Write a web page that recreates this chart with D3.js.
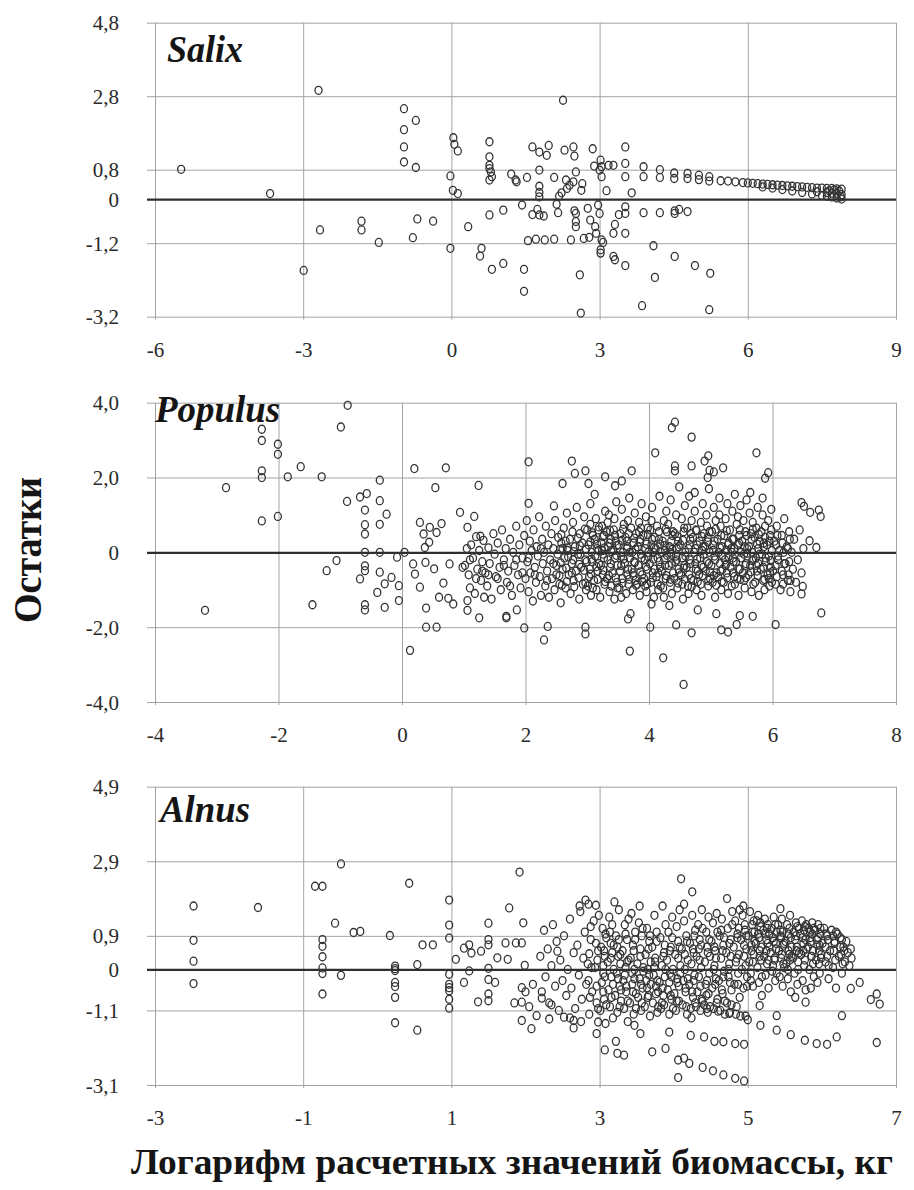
<!DOCTYPE html>
<html><head><meta charset="utf-8">
<script src="https://cdn.jsdelivr.net/npm/d3@7"></script>
<style>body{margin:0;background:#fff}svg{display:block}</style>
</head><body>
<script>
// ---------------- DATA ----------------
const salixXTicks = [-6,-3,0,3,6,9];
const salixYTicks = [4.8,2.8,0.8,0,-1.2,-3.2];
const salixYLabels = ["4,8","2,8","0,8","0","-1,2","-3,2"];
const populusXTicks = [-4,-2,0,2,4,6,8];
const populusYTicks = [4,2,0,-2,-4];
const populusYLabels = ["4,0","2,0","0","-2,0","-4,0"];
const alnusXTicks = [-3,-1,1,3,5,7];
const alnusYTicks = [4.9,2.9,0.9,0,-1.1,-3.1];
const alnusYLabels = ["4,9","2,9","0,9","0","-1,1","-3,1"];
const speciesNames = ["Salix","Populus","Alnus"];
const yTitle = "Остатки";
const xTitle = "Логарифм расчетных значений биомассы, кг";

const salixPoints = [
[-5.47,0.81],[-3.67,0.15],[-2.69,2.96],[-2.99,-1.94],[-2.66,-0.84],[-1.82,-0.6],[-1.82,-0.84],[-1.47,-1.18],
[-0.96,2.46],[-0.72,2.14],[-0.96,1.89],[-0.96,1.42],[-0.96,1.01],[-0.72,0.86],[-0.69,-0.54],[-0.78,-1.05],[-0.37,-0.6],
[-0.02,-1.34],[0.04,1.67],[0.06,1.49],[0.13,1.31],[-0.02,0.63],[0.03,0.24],[0.13,0.15],[0.34,-0.75],[0.61,-1.34],[0.58,-1.55],
[0.77,1.56],[0.77,1.15],[0.77,0.92],[0.77,0.83],[0.8,0.74],[0.77,0.52],[0.82,0.61],[0.77,-0.43],[0.82,-1.91],[1.05,-1.75],[1.05,-0.3],
[1.21,0.68],[1.3,0.52],[1.32,0.47],[1.53,0.59],[1.43,-0.16],[1.47,-1.91],[1.47,-2.51],[1.55,-1.13],[1.64,1.42],[1.64,-0.42],[1.71,-1.09],
[1.78,1.28],[1.78,0.79],[1.78,0.35],[1.78,0.18],[1.78,0.06],[1.78,-0.43],[1.74,-0.28],[1.87,-0.46],[1.93,1.19],[1.97,1.46],[1.89,-1.11],
[2.08,0.59],[2.08,-1.09],[2.13,-0.14],[2.16,-0.37],[2.18,0.08],[2.23,0.17],[2.26,2.69],[2.29,1.33],[2.32,0.52],[2.34,0.29],[2.39,0.38],
[2.42,-1.11],[2.47,1.42],[2.49,1.17],[2.52,0.74],[2.47,0.47],[2.49,-0.32],[2.52,-0.39],[2.52,-0.61],[2.52,-0.75],[2.6,-2.06],[2.62,-3.1],
[2.63,0.24],[2.65,0.42],[2.68,-1.07],[2.76,-0.25],[2.79,-1.04],[2.81,-0.57],[2.86,1.37],[2.89,0.9],[2.91,-0.75],[2.93,-0.93],[2.97,-0.16],
[3.0,0.79],[3.0,-0.39],[3.02,1.06],[3.04,0.88],[3.04,0.61],[3.04,-1.11],[3.07,-1.18],[3.02,-1.38],[3.02,-1.47],[3.14,0.23],[3.18,0.92],
[3.28,0.92],[3.28,-1.56],[3.31,-1.65],[3.31,-0.69],[3.28,-0.93],[3.39,-0.42],[3.52,1.42],[3.52,0.97],[3.52,0.61],[3.52,-0.21],[3.52,-0.39],
[3.52,-0.93],[3.52,-1.81],[3.65,0.17],[3.89,0.88],[3.89,0.61],[3.89,-0.37],[3.86,-2.9],[4.09,-1.27],[4.12,-2.13],[4.22,0.8],[4.22,0.59],
[4.22,-0.37],[4.51,0.71],[4.51,0.56],[4.52,-0.32],[4.52,-0.39],[4.52,-1.56],[4.61,-0.28],[4.78,0.7],[4.78,0.56],[4.78,-0.34],[4.93,-1.81],
[5.01,0.65],[5.01,0.53],[5.22,0.61],[5.22,0.49],[5.24,-2.02],[5.22,-3.01],
[5.45,0.5],[5.6,0.49],[5.75,0.47],[5.9,0.45],[6.0,0.44],[6.1,0.43],[6.2,0.42],[6.3,0.41],[6.4,0.4],[6.5,0.39],[6.6,0.38],[6.7,0.37],
[6.8,0.36],[6.9,0.35],[7.0,0.34],[7.1,0.33],[7.2,0.32],[7.3,0.31],[7.4,0.3],[7.5,0.3],[7.6,0.29],[7.7,0.29],[7.8,0.28],[7.9,0.27],
[6.3,0.33],[6.5,0.3],[6.7,0.26],[6.9,0.22],[7.1,0.18],[7.3,0.14],[7.5,0.1],[7.6,0.08],[7.7,0.06],[7.8,0.03],[7.9,0.0],
[7.4,0.2],[7.6,0.18],[7.7,0.16],[7.8,0.14],[7.9,0.12],[7.85,0.22],[7.75,0.25],[7.65,0.23],[7.88,0.06]
];

const populusPoints = [
[-3.19,-1.55],[-2.85,1.73],[-2.27,3.29],[-2.27,2.99],[-2.27,2.18],[-2.27,2.0],[-2.27,0.84],[-2.01,2.89],[-2.01,2.62],[-2.01,0.96],
[-1.85,2.02],[-1.64,2.29],[-1.45,-1.4],[-1.3,2.02],[-1.22,-0.49],[-1.06,-0.22],[-0.99,3.35],[-0.88,3.93],[-0.89,1.36],[-0.68,1.48],
[-0.57,1.57],[-0.68,-0.71],[-0.6,1.13],[-0.6,0.74],[-0.6,0.49],[-0.6,0.0],[-0.6,-0.36],[-0.6,-0.49],[-0.6,-1.4],[-0.6,-1.54],
[-0.4,-1.07],[-0.36,1.93],[-0.36,1.38],[-0.36,0.75],[-0.36,0.0],[-0.36,-0.53],[-0.28,-0.84],[-0.25,1.02],[-0.28,-1.47],[-0.17,-0.67],
[-0.08,-0.13],[-0.05,-0.89],[-0.05,-1.29],[0.04,0.0],[0.13,-2.62],[0.2,2.24],[0.18,-0.31],[0.21,-0.58],[0.29,0.8],[0.29,-0.93],
[0.35,0.49],[0.37,0.13],[0.38,-0.27],[0.39,-1.49],[0.39,-2.0],[0.44,0.27],[0.45,0.67],[0.52,-0.44],[0.54,1.73],[0.56,-2.0],
[0.56,0.53],[0.6,-1.2],[0.64,0.77],[0.67,-0.82],[0.71,2.26],[0.75,-1.23],[0.77,-0.31],[0.83,-1.38],[0.94,1.07],[0.98,-0.4],
[1.06,0.67],[1.06,-1.29],[1.06,-1.55],[1.17,0.96],[1.24,1.79],[1.25,-1.75],[1.27,0.43],[1.33,-1.2],[1.69,-1.71],[1.69,-1.75],
[1.86,-1.54],[1.98,-2.02],[2.05,2.42],[2.05,1.31],[2.3,-2.34],[2.36,-1.98],[2.46,1.24],[2.6,1.84],[2.75,2.44],[2.8,2.11],
[2.97,-2.0],[2.97,-2.18],[2.97,2.18],[3.02,1.84],[3.29,2.02],[3.45,1.78],[3.56,1.91],[3.69,-2.64],[3.66,-1.78],[3.7,-1.64],
[3.72,2.18],[4.02,-2.0],[4.04,-1.38],[4.1,2.66],[4.23,-2.82],[4.33,-1.42],[4.37,3.33],[4.42,3.48],[4.42,2.31],[4.42,2.18],
[4.44,-1.94],[4.56,-3.53],[4.69,3.08],[4.69,2.31],[4.69,-2.15],[4.79,-1.54],[4.9,2.44],[4.96,2.58],[4.98,2.19],[5.05,2.15],
[4.95,2.0],[5.09,-1.64],[5.17,-2.07],[5.2,2.26],[5.28,-2.13],[5.42,-1.93],[5.47,-1.69],[5.68,-1.71],[5.74,2.66],[5.88,1.98],
[5.93,2.13],[6.05,-1.93],[6.47,1.33],[6.51,1.23],[6.61,1.07],[6.75,1.13],[6.78,0.96],[6.79,-1.62],[6.71,0.13],[6.49,-0.91],
[6.47,-1.11],[6.6,0.31],
[1.02,-0.35],[1.05,0.1],[1.08,-0.6],[1.1,-0.95],[1.12,0.2],[1.15,-0.15],[1.18,-1.1],[1.2,0.42],[1.22,-0.45],[1.25,0.05],
[1.28,-0.75],[1.3,-0.25],[1.32,0.32],[1.35,-0.55],[1.38,-0.9],[1.4,0.12],[1.42,-0.3],[1.45,-1.25],[1.48,0.5],[1.5,-0.05],
[1.52,-0.65],[1.55,0.25],[1.58,-0.4],[1.6,-1.0],[1.62,0.6],[1.65,-0.2],[1.68,0.1],[1.7,-0.8],[1.72,-0.5],[1.75,0.35],
[1.78,-1.15],[1.8,0.0],[1.82,-0.35],[1.85,0.7],[1.88,-0.6],[1.9,0.2],[1.92,-0.95],[1.95,-0.15],[1.98,0.45],[2.0,-0.7],
[2.02,0.85],[2.03,-0.25],[2.05,-1.05],[2.07,0.3],[2.08,-0.55],[2.1,0.05],[2.12,-1.3],[2.13,0.6],[2.15,-0.4],[2.17,-0.8],
[2.18,0.15],[2.2,-0.1],[2.22,0.95],[2.23,-0.65],[2.25,-1.15],[2.27,0.35],[2.28,-0.3],[2.3,0.0],[2.32,-0.9],[2.33,0.7],
[2.35,-0.5],[2.37,0.2],[2.38,-1.2],[2.4,-0.2],[2.42,0.5],[2.43,-0.7],[2.45,0.1],[2.47,-1.0],[2.48,0.85],[2.5,-0.35],
[2.52,-0.05],[2.53,0.4],[2.55,-0.85],[2.57,-1.35],[2.58,0.25],[2.6,-0.45],[2.62,0.65],[2.63,-0.15],[2.65,-0.95],[2.67,1.05],
[2.68,0.05],[2.7,-0.6],[2.72,0.35],[2.73,-1.1],[2.75,-0.3],[2.77,0.8],[2.78,-0.75],[2.8,0.15],[2.82,-0.5],[2.83,1.2],
[2.85,-0.05],[2.87,-1.25],[2.88,0.5],[2.9,-0.4],[2.92,0.25],[2.93,-0.85],[2.95,0.95],[2.97,-0.2],[2.98,-1.0],[3.0,0.6],
[3.01,-0.9],[3.02,0.2],[3.04,-0.45],[3.05,0.75],[3.06,-1.15],[3.07,0.0],[3.08,-0.25],[3.09,0.45],[3.03,-0.65],[3.05,1.3],
[3.11,-0.75],[3.12,0.35],[3.13,-0.1],[3.14,0.9],[3.15,-1.0],[3.16,0.1],[3.17,-0.5],[3.18,0.6],[3.19,-0.3],[3.12,1.55],
[3.21,-1.2],[3.22,-0.35],[3.23,0.25],[3.24,0.7],[3.25,-0.6],[3.26,-0.05],[3.27,0.45],[3.28,-0.85],[3.29,1.1],[3.24,0.05],
[3.31,0.55],[3.32,-0.7],[3.33,-0.2],[3.34,0.15],[3.35,1.0],[3.36,-1.05],[3.37,-0.4],[3.38,0.35],[3.39,-0.9],[3.33,0.8],
[3.41,-0.55],[3.42,0.05],[3.43,0.6],[3.44,-1.25],[3.45,-0.15],[3.46,0.3],[3.47,1.35],[3.48,-0.8],[3.49,-0.35],[3.44,0.9],
[3.51,0.2],[3.52,-0.95],[3.53,-0.5],[3.54,0.5],[3.55,-0.1],[3.56,1.15],[3.57,-0.7],[3.58,0.0],[3.59,0.75],[3.55,-1.2],
[3.61,-0.3],[3.62,0.4],[3.63,-1.1],[3.64,0.1],[3.65,-0.6],[3.66,0.85],[3.67,-0.85],[3.68,1.45],[3.69,-0.15],[3.64,0.3],
[3.71,0.65],[3.72,-0.45],[3.73,0.0],[3.74,-1.0],[3.75,0.25],[3.76,-0.25],[3.77,1.05],[3.78,-0.75],[3.79,0.5],[3.74,-0.55],
[3.81,-0.85],[3.82,0.15],[3.83,-0.35],[3.84,0.8],[3.85,-1.15],[3.86,0.35],[3.87,-0.05],[3.88,1.3],[3.89,-0.6],[3.84,0.55],
[3.91,0.45],[3.92,-0.7],[3.93,-0.2],[3.94,0.1],[3.95,0.95],[3.96,-1.05],[3.97,-0.45],[3.98,0.65],[3.99,0.0],[3.94,-0.9],
[4.01,-0.3],[4.02,0.6],[4.03,-0.8],[4.04,0.2],[4.05,1.2],[4.06,-0.55],[4.07,0.0],[4.08,-1.2],[4.09,0.4],[4.04,0.85],
[4.11,0.1],[4.12,-0.65],[4.13,0.7],[4.14,-0.15],[4.15,-1.0],[4.16,0.35],[4.17,1.5],[4.18,-0.4],[4.19,0.0],[4.14,-0.85],
[4.21,-0.5],[4.22,0.3],[4.23,-0.95],[4.24,0.85],[4.25,-0.2],[4.26,0.05],[4.27,-0.7],[4.28,1.1],[4.29,0.55],[4.24,-1.2],
[4.31,0.75],[4.32,-0.35],[4.33,0.15],[4.34,-0.8],[4.35,1.4],[4.36,-0.05],[4.37,-1.1],[4.38,0.45],[4.39,-0.55],[4.34,0.0],
[4.41,-0.7],[4.42,0.5],[4.43,-0.25],[4.44,1.0],[4.45,0.1],[4.46,-0.95],[4.47,0.3],[4.48,-0.45],[4.49,1.75],[4.44,-0.1],
[4.51,0.2],[4.52,-0.6],[4.53,0.9],[4.54,-0.15],[4.55,-1.25],[4.56,0.55],[4.57,-0.35],[4.58,1.25],[4.59,0.0],[4.54,-0.85],
[4.61,-0.4],[4.62,0.65],[4.63,-0.9],[4.64,0.1],[4.65,1.5],[4.66,-0.2],[4.67,0.35],[4.68,-0.7],[4.69,0.85],[4.64,-1.1],
[4.71,0.4],[4.72,-0.75],[4.73,0.0],[4.74,1.1],[4.75,-0.3],[4.76,0.6],[4.77,-1.0],[4.78,0.2],[4.79,-0.5],[4.74,1.6],
[4.81,-0.6],[4.82,0.3],[4.83,-0.15],[4.84,0.8],[4.85,-1.15],[4.86,0.05],[4.87,1.3],[4.88,-0.4],[4.89,0.5],[4.84,-0.85],
[4.91,0.15],[4.92,-0.5],[4.93,1.0],[4.94,-0.25],[4.95,0.4],[4.96,-0.9],[4.97,1.7],[4.98,0.0],[4.99,-0.7],[4.94,0.7],
[5.01,-0.35],[5.02,0.55],[5.03,-0.8],[5.04,0.2],[5.05,1.2],[5.06,-0.1],[5.07,-1.2],[5.08,0.85],[5.09,-0.55],[5.04,0.05],
[5.11,0.35],[5.12,-0.65],[5.13,0.0],[5.14,1.45],[5.15,-0.3],[5.16,0.7],[5.17,-1.0],[5.18,0.15],[5.19,-0.45],[5.14,1.0],
[5.21,-0.8],[5.22,0.45],[5.23,-0.2],[5.24,0.9],[5.25,0.05],[5.26,-0.55],[5.27,1.3],[5.28,-1.1],[5.29,0.25],[5.24,-0.35],
[5.31,0.6],[5.32,-0.4],[5.33,0.1],[5.34,-0.9],[5.35,1.1],[5.36,-0.15],[5.37,0.35],[5.38,-0.65],[5.39,1.55],[5.34,0.0],
[5.41,-0.25],[5.42,0.75],[5.43,-0.7],[5.44,0.2],[5.45,-1.15],[5.46,0.45],[5.47,-0.45],[5.48,1.25],[5.49,0.0],[5.44,0.95],
[5.51,0.3],[5.52,-0.55],[5.53,0.85],[5.54,-0.05],[5.55,-0.95],[5.56,0.55],[5.57,-0.3],[5.58,1.4],[5.59,0.1],[5.54,-0.75],
[5.61,-0.6],[5.62,0.15],[5.63,1.05],[5.64,-0.35],[5.65,0.5],[5.66,-1.05],[5.67,0.0],[5.68,0.8],[5.69,-0.2],[5.64,1.6],
[5.71,0.4],[5.72,-0.8],[5.73,-0.15],[5.74,0.65],[5.75,-0.5],[5.76,1.2],[5.77,0.1],[5.78,-1.15],[5.79,0.3],[5.74,-0.35],
[5.81,-0.45],[5.82,0.55],[5.83,-0.05],[5.84,1.0],[5.85,-0.75],[5.86,0.25],[5.87,-1.0],[5.88,0.7],[5.89,-0.25],[5.84,1.45],
[5.91,0.2],[5.92,-0.6],[5.93,0.85],[5.94,-0.1],[5.95,-0.9],[5.96,0.45],[5.97,-0.4],[5.98,1.15],[5.99,0.05],[5.94,-0.7],
[6.01,-0.5],[6.03,0.3],[6.05,-0.85],[6.07,0.7],[6.09,-0.2],[6.11,0.05],[6.13,-1.0],[6.15,0.45],[6.17,-0.6],[6.19,0.9],
[6.21,-0.3],[6.23,0.15],[6.25,-0.75],[6.27,0.55],[6.29,-1.05],[6.31,0.0],[6.33,-0.45],[6.35,0.35],[6.38,-0.8],[6.41,-0.2],
[6.44,0.6],[6.47,-0.55],[6.5,0.1]
];

const populusCorePoints = [
[2.55,-0.62],[2.56,0.08],[2.57,-0.28],[2.58,0.48],[2.59,-0.88],[2.65,0.3],[2.66,-0.42],[2.67,-0.78],[2.68,0.12],[2.69,-0.12],
[2.75,-0.55],[2.76,0.55],[2.77,-0.2],[2.78,0.02],[2.79,-0.92],[2.85,0.38],[2.86,-0.68],[2.87,-0.32],[2.88,0.18],[2.89,-0.05],
[2.95,-0.48],[2.96,0.62],[2.97,-0.82],[2.98,0.08],[2.99,-0.25],[3.05,0.28],[3.06,-0.58],[3.07,-0.18],[3.08,0.52],[3.09,-0.95],
[3.15,-0.38],[3.16,0.22],[3.17,-0.72],[3.18,0.05],[3.19,0.68],[3.25,0.42],[3.26,-0.48],[3.27,-0.15],[3.28,0.12],[3.29,-0.78],
[3.35,-0.62],[3.36,0.25],[3.37,0.58],[3.38,-0.3],[3.39,0.02],[3.45,0.45],[3.46,-0.68],[3.47,-0.08],[3.48,0.18],[3.49,-0.95],
[3.55,-0.35],[3.56,0.32],[3.57,-0.82],[3.58,0.62],[3.59,-0.18],[3.65,0.15],[3.66,-0.45],[3.67,0.5],[3.68,-0.72],[3.69,0.0],
[3.75,-0.62],[3.76,0.38],[3.77,-0.28],[3.78,0.08],[3.79,-0.88],[3.85,0.28],[3.86,-0.52],[3.87,0.65],[3.88,-0.15],[3.89,-0.78],
[3.95,-0.38],[3.96,0.22],[3.97,-0.85],[3.98,0.48],[3.99,-0.12],[4.05,0.35],[4.06,-0.68],[4.07,-0.18],[4.08,0.12],[4.09,-0.45],
[4.15,-0.55],[4.16,0.55],[4.17,-0.25],[4.18,0.22],[4.19,-0.9],[4.25,0.18],[4.26,-0.35],[4.27,0.62],[4.28,-0.62],[4.29,-0.08],
[4.35,-0.72],[4.36,0.3],[4.37,-0.3],[4.38,0.08],[4.39,0.55],[4.45,-0.2],[4.46,0.42],[4.47,-0.82],[4.48,0.15],[4.49,-0.55],
[4.55,0.32],[4.56,-0.42],[4.57,0.65],[4.58,-0.72],[4.59,-0.1],[4.65,-0.6],[4.66,0.2],[4.67,-0.3],[4.68,0.5],[4.69,-0.92],
[4.75,0.1],[4.76,-0.45],[4.77,0.58],[4.78,-0.18],[4.79,-0.78],[4.85,-0.35],[4.86,0.42],[4.87,-0.62],[4.88,0.15],[4.89,-0.05],
[4.95,0.28],[4.96,-0.75],[4.97,-0.3],[4.98,0.55],[4.99,-0.52],[5.05,-0.62],[5.06,0.3],[5.07,-0.2],[5.08,0.62],[5.09,-0.88],
[5.15,0.12],[5.16,-0.5],[5.17,0.45],[5.18,-0.78],[5.19,-0.08],[5.25,-0.32],[5.26,0.58],[5.27,-0.68],[5.28,0.2],[5.29,-0.12],
[5.35,0.35],[5.36,-0.55],[5.37,-0.25],[5.38,0.1],[5.39,-0.85],[5.45,-0.45],[5.46,0.25],[5.47,0.6],[5.48,-0.72],[5.49,-0.15],
[5.55,0.15],[5.56,-0.35],[5.57,-0.68],[5.58,0.45],[5.59,-0.02],[5.65,-0.52],[5.66,0.35],[5.67,-0.22],[5.68,0.62],[5.69,-0.85],
[5.75,0.22],[5.76,-0.62],[5.77,-0.3],[5.78,0.48],[5.79,-0.05],[5.85,-0.4],[5.86,0.15],[5.87,-0.72],[5.88,0.4],[5.89,-0.15],
[5.95,0.3],[5.96,-0.55],[5.97,-0.22],[5.98,0.6],[5.99,-0.8],[6.05,-0.35],[6.06,0.2],[6.07,-0.65],[6.08,0.45],[6.09,-0.1],
[6.15,-0.5],[6.16,0.25],[6.17,-0.85],[6.18,0.0],[6.19,-0.3],[6.25,0.1],[6.26,-0.6],[6.27,-0.25],[6.28,0.35],[6.29,-0.75],
[1.55,-0.7],[1.65,-0.35],[1.75,-0.9],[1.85,-0.2],[1.95,-0.55],[2.05,-0.15],[2.15,-0.6],[2.25,0.1],[2.35,-0.75],[2.45,-0.3],
[1.1,-0.2],[1.2,-0.7],[1.3,-0.5],[1.4,-0.6],[2.5,-0.6],[2.6,0.1]
];

const alnusPoints = [
[-2.48,1.7],[-2.48,0.78],[-2.48,0.22],[-2.48,-0.38],[-1.61,1.66],[-0.84,2.23],[-0.74,2.23],[-0.74,0.8],[-0.74,0.62],[-0.74,0.34],
[-0.74,0.04],[-0.74,-0.11],[-0.74,-0.66],[-0.57,1.24],[-0.49,2.83],[-0.49,-0.16],[-0.32,0.99],[-0.23,1.02],[0.17,0.91],[0.24,0.09],
[0.24,0.02],[0.24,-0.03],[0.24,-0.35],[0.24,-0.46],[0.24,-0.75],[0.24,-1.43],[0.43,2.31],[0.54,0.13],[0.54,-1.63],[0.61,0.66],
[0.75,0.66],[0.97,1.86],[0.97,1.19],[0.97,0.84],[0.97,-0.13],[0.97,-0.4],[0.97,-0.49],[0.97,-0.57],[0.97,-0.8],[0.97,-1.04],
[1.06,0.27],[1.17,0.57],[1.17,-0.35],[1.24,0.66],[1.24,-0.04],[1.27,0.44],[1.36,-0.87],[1.4,0.49],[1.5,1.24],[1.5,0.8],
[1.5,0.66],[1.5,0.03],[1.5,-0.27],[1.5,-0.66],[1.5,-0.84],[1.59,-0.35],[1.62,0.31],[1.73,0.71],[1.76,0.27],[1.78,1.65],
[1.87,0.71],[1.92,2.61],[1.95,0.71],[1.95,-0.49],[1.95,-0.88],[1.95,-1.37],[1.97,1.25],[1.99,0.11],[2.08,-1.59],[2.15,-1.24],
[2.22,-0.77],[2.32,-1.33],[2.35,-0.95],[2.43,0.49],[2.52,-1.28],[2.65,-1.37],[2.65,-1.57],[2.81,1.86],[2.96,-1.72],[2.98,-1.41],
[3.07,-2.16],[3.2,1.81],[3.24,-2.25],[3.22,-1.93],[3.33,-2.3],[3.47,-1.5],[3.55,-1.72],[3.71,-2.21],[3.89,-2.12],[3.94,-1.68],
[4.06,-2.9],[4.06,-2.43],[4.14,-2.38],[4.21,-2.52],[4.23,-1.77],[4.1,2.43],[4.25,2.08],[4.39,-2.63],[4.41,-1.81],[4.53,-2.72],
[4.55,-1.93],[4.67,-2.83],[4.67,-1.94],[4.72,1.9],[4.83,-2.92],[4.83,-1.99],[4.95,-2.99],[4.95,-2.01],[5.16,-0.97],[5.17,-1.5],
[5.39,-1.24],[5.39,-1.63],[5.44,1.63],[5.58,-1.75],[5.77,-1.9],[5.78,-0.88],[5.93,-1.99],[6.07,-2.01],[6.2,-1.81],[6.27,-1.24],
[6.39,-0.51],[6.51,-0.35],[6.66,-0.81],[6.74,-0.66],[6.78,-0.93],[6.74,-1.96],
[4.3,-1.0],[4.45,-1.05],[4.6,-1.12],[4.75,-1.18],[4.9,-1.25],[5.0,-1.35],[1.85,-0.9],[2.0,-0.6],[2.05,-1.0],[2.1,-0.4],
[2.2,0.35],[2.22,-0.6],[2.25,1.05],[2.27,-0.2],[2.3,0.55],[2.32,-0.9],[2.35,0.1],[2.37,1.2],[2.4,-0.45],[2.42,0.75],
[2.45,-1.1],[2.47,0.25],[2.5,-0.3],[2.52,0.9],[2.55,-0.7],[2.57,0.0],[2.6,1.35],[2.62,-0.5],[2.65,0.45],[2.67,-1.05],
[2.7,0.65],[2.72,-0.15],[2.74,1.55],[2.76,-0.8],[2.78,0.3],[2.8,1.0],[2.82,-0.4],[2.84,0.15],[2.86,-1.2],[2.88,0.8],
[2.9,-0.6],[2.92,1.3],[2.94,0.05],[2.96,-0.9],[2.98,0.5],[2.73,1.7],[2.85,1.75],[2.95,1.72],[2.6,-1.3],[2.75,-1.4],
[3.01,-1.1],[3.02,0.6],[3.03,-0.35],[3.04,1.1],[3.05,0.1],[3.06,-0.8],[3.07,0.35],[3.08,-1.45],[3.09,0.85],[3.05,-0.1],
[3.11,0.2],[3.12,-0.55],[3.13,1.4],[3.14,-1.0],[3.15,0.7],[3.16,-0.2],[3.17,0.45],[3.18,-1.3],[3.19,0.0],[3.14,1.0],
[3.21,-0.7],[3.22,0.9],[3.23,-0.1],[3.24,-1.15],[3.25,0.35],[3.26,1.6],[3.27,-0.45],[3.28,0.15],[3.29,-0.85],[3.24,0.6],
[3.31,0.5],[3.32,-0.3],[3.33,-1.05],[3.34,1.2],[3.35,0.05],[3.36,-0.6],[3.37,0.8],[3.38,-1.4],[3.39,0.25],[3.34,-0.15],
[3.41,-0.9],[3.42,0.3],[3.43,1.5],[3.44,-0.4],[3.45,0.65],[3.46,-1.2],[3.47,0.0],[3.48,1.0],[3.49,-0.65],[3.44,-0.1],
[3.51,0.15],[3.52,-0.75],[3.53,1.25],[3.54,-0.25],[3.55,0.55],[3.56,-1.1],[3.57,0.9],[3.58,-0.5],[3.59,-0.05],[3.54,1.7],
[3.61,-1.0],[3.62,0.4],[3.63,-0.3],[3.64,1.1],[3.65,0.0],[3.66,-0.7],[3.67,0.75],[3.68,-1.25],[3.69,0.2],[3.64,-0.5],
[3.71,0.6],[3.72,-0.9],[3.73,-0.15],[3.74,1.45],[3.75,0.3],[3.76,-0.45],[3.77,1.0],[3.78,-1.15],[3.79,-0.6],[3.74,0.05],
[3.81,-0.35],[3.82,0.85],[3.83,-1.05],[3.84,0.1],[3.85,1.7],[3.86,-0.7],[3.87,0.45],[3.88,-0.2],[3.89,1.2],[3.84,-0.9],
[3.91,0.25],[3.92,-0.55],[3.93,1.0],[3.94,-1.2],[3.95,-0.1],[3.96,0.6],[3.97,-0.8],[3.98,1.4],[3.99,0.0],[3.94,-0.35],
[4.01,-0.65],[4.02,0.4],[4.03,-1.1],[4.04,1.15],[4.05,-0.25],[4.06,0.75],[4.07,-0.45],[4.08,1.6],[4.09,0.1],[4.04,-0.85],
[4.11,0.55],[4.12,-0.95],[4.13,-0.3],[4.14,1.3],[4.15,0.0],[4.16,-0.6],[4.17,0.9],[4.18,-1.2],[4.19,0.25],[4.14,1.75],
[4.21,-0.4],[4.22,0.7],[4.23,-1.05],[4.24,0.15],[4.25,1.45],[4.26,-0.75],[4.27,0.45],[4.28,-0.15],[4.29,1.05],[4.24,-1.3],
[4.31,0.35],[4.32,-0.6],[4.33,1.2],[4.34,-0.2],[4.35,0.8],[4.36,-1.1],[4.37,0.05],[4.38,1.6],[4.39,-0.85],[4.34,0.55],
[4.41,-0.95],[4.42,0.2],[4.43,-0.4],[4.44,1.0],[4.45,0.6],[4.46,-1.15],[4.47,1.4],[4.48,-0.1],[4.49,0.35],[4.44,-0.7],
[4.51,0.75],[4.52,-0.5],[4.53,1.25],[4.54,-1.05],[4.55,0.1],[4.56,0.5],[4.57,-0.25],[4.58,1.5],[4.59,-0.8],[4.54,0.0],
[4.61,-0.3],[4.62,0.9],[4.63,-1.1],[4.64,0.3],[4.65,1.35],[4.66,-0.65],[4.67,0.65],[4.68,-0.05],[4.69,-1.2],[4.64,1.05],
[4.71,0.45],[4.72,-0.9],[4.73,1.1],[4.74,-0.2],[4.75,0.15],[4.76,-1.15],[4.77,0.8],[4.78,-0.55],[4.79,1.55],[4.74,0.0],
[4.81,0.6],[4.82,-0.4],[4.83,1.3],[4.84,0.2],[4.85,-1.0],[4.86,0.95],[4.87,-0.1],[4.88,0.4],[4.89,1.6],[4.84,-1.2],
[4.91,0.8],[4.92,0.0],[4.93,1.45],[4.94,-0.5],[4.95,0.35],[4.96,1.05],[4.97,-1.25],[4.98,0.55],[4.99,-0.2],[4.94,1.7],
[5.01,0.9],[5.02,0.2],[5.03,1.55],[5.04,-0.3],[5.05,0.65],[5.06,1.2],[5.07,-0.45],[5.08,0.4],[5.09,1.0],[5.04,-0.1],
[5.11,0.7],[5.12,1.3],[5.13,0.05],[5.14,0.95],[5.15,-0.35],[5.16,0.5],[5.17,1.15],[5.18,0.25],[5.19,-0.7],[5.14,1.45],
[5.21,1.05],[5.22,0.35],[5.23,1.35],[5.24,-0.15],[5.25,0.8],[5.26,0.15],[5.27,1.2],[5.28,-0.5],[5.29,0.6],[5.24,0.95],
[5.31,0.45],[5.32,1.1],[5.33,-0.05],[5.34,0.85],[5.35,1.4],[5.36,0.25],[5.37,-0.3],[5.38,0.7],[5.39,1.0],[5.34,0.1],
[5.41,1.2],[5.42,0.5],[5.43,-0.2],[5.44,0.9],[5.45,0.3],[5.46,1.35],[5.47,-0.45],[5.48,0.65],[5.49,0.05],[5.44,1.05],
[5.51,0.75],[5.52,0.15],[5.53,1.2],[5.54,-0.25],[5.55,0.95],[5.56,0.4],[5.57,1.45],[5.58,-0.6],[5.59,0.6],[5.54,0.0],
[5.61,0.3],[5.62,1.0],[5.63,-0.1],[5.64,0.8],[5.65,1.25],[5.66,0.5],[5.67,-0.4],[5.68,0.2],[5.69,1.1],[5.64,-0.75],
[5.71,0.95],[5.72,0.4],[5.73,1.3],[5.74,-0.3],[5.75,0.7],[5.76,0.1],[5.77,1.15],[5.78,-0.55],[5.79,0.55],[5.74,0.85],
[5.81,0.6],[5.82,1.1],[5.83,0.0],[5.84,0.85],[5.85,-0.5],[5.86,0.35],[5.87,1.25],[5.88,0.15],[5.89,-0.2],[5.84,1.0],
[5.91,1.05],[5.92,0.25],[5.93,0.8],[5.94,-0.35],[5.95,1.2],[5.96,0.5],[5.97,-0.1],[5.98,0.95],[5.99,0.3],[5.94,0.65],
[6.01,0.7],[6.03,1.1],[6.05,0.2],[6.07,0.9],[6.09,-0.25],[6.11,0.5],[6.13,1.05],[6.15,0.05],[6.17,0.75],[6.19,-0.5],
[6.21,0.95],[6.23,0.35],[6.25,0.85],[6.27,-0.1],[6.29,0.6],[6.31,0.2],[6.33,0.75],[6.35,0.45],[6.37,0.1],[6.39,0.55],[6.4,0.3]
];

const alnusCorePoints = [
[2.85,-0.3],[2.86,0.42],[2.87,-0.75],[2.88,1.15],[2.89,0.05],[2.95,0.7],[2.96,-0.45],[2.97,0.25],[2.98,-1.05],[2.99,1.45],
[3.05,-0.6],[3.06,0.5],[3.07,-0.2],[3.08,0.95],[3.09,-0.95],[3.15,0.3],[3.16,-0.75],[3.17,1.2],[3.18,-0.4],[3.19,0.65],
[3.25,-0.25],[3.26,0.8],[3.27,-1.0],[3.28,0.4],[3.29,-0.55],[3.35,0.95],[3.36,-0.45],[3.37,0.2],[3.38,-0.85],[3.39,1.35],
[3.45,-0.6],[3.46,0.5],[3.47,-0.25],[3.48,0.8],[3.49,-1.05],[3.55,0.35],[3.56,-0.4],[3.57,-0.9],[3.58,1.1],[3.59,0.05],
[3.65,-0.75],[3.66,0.55],[3.67,-0.15],[3.68,0.9],[3.69,-0.4],[3.75,0.2],[3.76,-0.65],[3.77,0.75],[3.78,-0.3],[3.79,-1.0],
[3.85,-0.5],[3.86,0.35],[3.87,-0.95],[3.88,0.65],[3.89,0.0],[3.95,0.5],[3.96,-0.7],[3.97,-0.2],[3.98,0.85],[3.99,-1.05],
[4.05,-0.35],[4.06,0.3],[4.07,-0.85],[4.08,0.6],[4.09,-0.1],[4.15,0.4],[4.16,-0.5],[4.17,-1.0],[4.18,0.75],[4.19,-0.25],
[4.25,-0.6],[4.26,0.55],[4.27,-0.3],[4.28,0.9],[4.29,-0.9],[4.35,0.25],[4.36,-0.45],[4.37,0.65],[4.38,-0.8],[4.39,1.1],
[4.45,-0.3],[4.46,0.45],[4.47,-0.65],[4.48,0.8],[4.49,-1.0],[4.55,0.6],[4.56,-0.4],[4.57,0.3],[4.58,-0.9],[4.59,1.0],
[4.65,-0.55],[4.66,0.5],[4.67,-0.2],[4.68,0.85],[4.69,-0.85],[4.75,0.7],[4.76,-0.35],[4.77,0.35],[4.78,-0.95],[4.79,1.2],
[4.85,0.3],[4.86,0.85],[4.87,-0.4],[4.88,1.1],[4.89,-0.75],[4.95,0.65],[4.96,1.2],[4.97,0.1],[4.98,0.9],[4.99,-0.45],
[5.05,0.5],[5.06,1.0],[5.07,0.2],[5.08,1.3],[5.09,0.75],[5.15,0.85],[5.16,0.35],[5.17,1.25],[5.18,0.6],[5.19,-0.2],
[5.25,0.5],[5.26,1.1],[5.27,0.7],[5.28,0.25],[5.29,0.95],[5.35,0.75],[5.36,0.3],[5.37,1.2],[5.38,0.55],[5.39,-0.1],
[5.45,0.85],[5.46,0.4],[5.47,1.0],[5.48,0.15],[5.49,0.7],[5.55,0.5],[5.56,1.1],[5.57,0.25],[5.58,0.85],[5.59,0.35],
[5.65,0.9],[5.66,0.6],[5.67,1.15],[5.68,0.0],[5.69,0.45],[5.75,0.5],[5.76,1.05],[5.77,0.25],[5.78,0.8],[5.79,1.2],
[5.85,0.75],[5.86,0.35],[5.87,0.95],[5.88,0.5],[5.89,1.1],[5.95,0.85],[5.96,0.15],[5.97,0.65],[5.98,1.1],[5.99,0.4],
[6.05,0.6],[6.06,0.95],[6.07,0.35],[6.08,0.8],[6.09,0.1],[6.15,0.9],[6.16,0.5],[6.17,0.7],[6.18,0.25],[6.19,1.0],
[6.25,0.6],[6.26,0.4],[6.27,0.8],[6.28,0.15],[6.3,0.5]
];

// ---------------- LAYOUT ----------------
const W = 914, H = 1190;
const plotLeft = 155, plotRight = 896;
const panelGeom = [
  {top: 22.7, bottom: 316.7, xDom: [-6, 9], yDom: [-3.2, 4.8], xTicks: salixXTicks, yTicks: salixYTicks, yLabels: salixYLabels, pts: salixPoints, lab: {x: 167, y: 62, len: 76}},
  {top: 402.7, bottom: 702, xDom: [-4, 8], yDom: [-4, 4], xTicks: populusXTicks, yTicks: populusYTicks, yLabels: populusYLabels, pts: populusPoints.concat(populusCorePoints), lab: {x: 155, y: 422, len: 125}},
  {top: 786.7, bottom: 1085, xDom: [-3, 7], yDom: [-3.1, 4.9], xTicks: alnusXTicks, yTicks: alnusYTicks, yLabels: alnusYLabels, pts: alnusPoints.concat(alnusCorePoints), lab: {x: 160, y: 822, len: 90}}
];

const svg = d3.select("body").append("svg").attr("width", W).attr("height", H);
const serif = "\"Liberation Serif\", \"Times New Roman\", serif";
const gridColor = "#a3a3a3";

panelGeom.forEach((p, i) => {
  const x = d3.scaleLinear().domain(p.xDom).range([plotLeft, plotRight]);
  const y = d3.scaleLinear().domain(p.yDom).range([p.bottom, p.top]);
  const g = svg.append("g");

  const xa = g.append("g").attr("transform", `translate(0,${p.bottom + 3})`)
    .call(d3.axisBottom(x).tickValues(p.xTicks).tickSize(-(p.bottom - p.top + 3)).tickSizeOuter(0).tickFormat(d => String(d)));
  xa.select(".domain").remove();
  xa.attr("font-family", null).attr("font-size", null);
  xa.selectAll(".tick line").attr("stroke", gridColor).attr("stroke-width", 1);
  xa.selectAll(".tick text").attr("y", 37).attr("dy", 0)
    .style("font-family", serif).style("font-size", "21px").attr("fill", "#2a2a2a");

  const ya = g.append("g").attr("transform", `translate(${plotLeft - 8},0)`)
    .call(d3.axisLeft(y).tickValues(p.yTicks).tickSize(-(plotRight - plotLeft + 8)).tickSizeOuter(0).tickPadding(28)
      .tickFormat((d, k) => p.yLabels[k]));
  ya.select(".domain").remove();
  ya.attr("font-family", null).attr("font-size", null);
  ya.selectAll(".tick line").attr("stroke", d => d === 0 ? "#2e2e2e" : gridColor).attr("stroke-width", d => d === 0 ? 2.2 : 1);
  ya.selectAll(".tick text").style("font-family", serif).style("font-size", "21px").attr("fill", "#2a2a2a").attr("dy", "0.34em");
  ya.selectAll(".tick").filter(d => d === 0).raise();

  g.append("g").selectAll("ellipse").data(p.pts).join("ellipse")
    .attr("cx", d => x(d[0])).attr("cy", d => y(d[1]))
    .attr("rx", 3.5).attr("ry", 4.0)
    .attr("fill", "none").attr("stroke", "#333").attr("stroke-width", 1.3);

  g.append("text").attr("x", p.lab.x).attr("y", p.lab.y)
    .style("font-family", serif).style("font-size", "38px").style("font-weight", "bold").style("font-style", "italic")
    .attr("fill", "#151515").attr("textLength", p.lab.len).attr("lengthAdjust", "spacingAndGlyphs")
    .text(speciesNames[i]);
});

svg.append("text").attr("transform", "translate(41,550) rotate(-90)")
  .attr("text-anchor", "middle").style("font-family", serif).style("font-size", "40px").style("font-weight", "bold")
  .attr("fill", "#151515").attr("textLength", 146).attr("lengthAdjust", "spacingAndGlyphs").text(yTitle);

svg.append("text").attr("x", 512).attr("y", 1174)
  .attr("text-anchor", "middle").style("font-family", serif).style("font-size", "36px").style("font-weight", "bold")
  .attr("fill", "#151515").attr("textLength", 762).attr("lengthAdjust", "spacingAndGlyphs").text(xTitle);
</script>
</body></html>
